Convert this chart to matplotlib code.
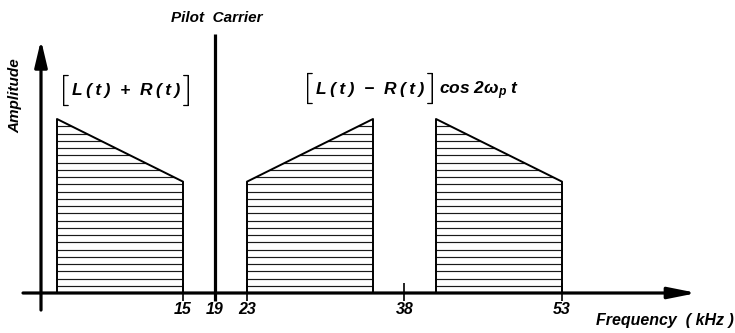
import numpy as np
import matplotlib
matplotlib.use("Agg")
import matplotlib.pyplot as plt
import matplotlib.patheffects as pe
from matplotlib.patches import Polygon

plt.rcParams['font.family'] = ['Liberation Sans', 'DejaVu Sans']
plt.rcParams['mathtext.fontset'] = 'custom'
plt.rcParams['mathtext.it'] = 'Liberation Sans:italic:bold'
plt.rcParams['mathtext.rm'] = 'Liberation Sans:italic:bold'

# spectrum bands (kHz) and their relative amplitudes at each edge
band_lo = [0, 23, 41]
band_hi = [15, 35, 53]
amp_lo = [1.0, 0.64, 1.0]
amp_hi = [0.64, 1.0, 0.64]

pilot_freq = 19
pilot_amp = 1.49

tick_freqs = [15, 19, 23, 38, 53]
tick_labels = ["15", "19", "23", "38", "53"]

# schematic (not to scale) frequency axis: kHz -> pixel position
scale_khz = [-10, 0, 15, 23, 53, 80]
scale_px = [-27, 57, 183, 247, 562, 845.5]


def fwd(x):
    return np.interp(x, scale_khz, scale_px)


def inv(p):
    return np.interp(p, scale_px, scale_khz)


W, H = 735, 333
fig = plt.figure(figsize=(W / 100, H / 100), dpi=100)
ax = fig.add_axes([0, 0, 1, 1])
ax.set_xscale('function', functions=(fwd, inv))
ax.set_xlim(inv(0), inv(W))
ax.set_ylim(-(H - 293) / 174, 293 / 174)
ax.axis('off')

bold = dict(fontweight='bold', fontstyle='italic', color='black')

# hatched bands
levels = np.arange(1, 24) / 24
for lo, hi, a0, a1 in zip(band_lo, band_hi, amp_lo, amp_hi):
    poly = Polygon([(lo, 0), (lo, a0), (hi, a1), (hi, 0)], closed=True,
                   facecolor='white', edgecolor='none', zorder=2)
    ax.add_patch(poly)
    hl = ax.hlines(levels, lo, hi, colors='#1a1a1a', lw=0.85, zorder=3)
    hl.set_clip_path(poly)
    ax.plot([lo, lo, hi, hi], [0, a0, a1, 0], color='black', lw=1.4, zorder=4)

# pilot carrier
ax.vlines(pilot_freq, -0.045, pilot_amp, colors='black', lw=2.3, zorder=5)

# axes with arrows
y_axis_x = inv(41)
ax.annotate('', xy=(y_axis_x, 1.454), xytext=(y_axis_x, -0.098),
            arrowprops=dict(arrowstyle='-|>,head_length=16,head_width=3.8',
                            mutation_scale=1, lw=2.3, color='black',
                            shrinkA=0, shrinkB=0), zorder=6)
ax.annotate('', xy=(inv(697), 0), xytext=(inv(23), 0),
            arrowprops=dict(arrowstyle='-|>,head_length=17,head_width=3.4',
                            mutation_scale=1, lw=2.3, color='black',
                            shrinkA=0, shrinkB=0), zorder=6)

# ticks and labels
ax.vlines(tick_freqs, -0.045, 0.058, colors='black', lw=1.2, zorder=6)
xt = ax.get_xaxis_transform()
for f, lab in zip(tick_freqs, tick_labels):
    ax.text(f, 1 - 309 / H, lab, transform=xt, ha='center', va='center',
            fontsize=11.5, **bold)


def px(x, y):
    return x / W, 1 - y / H


ax.text(*px(217, 18), "Pilot  Carrier", transform=ax.transAxes,
        ha='center', va='center', fontsize=11, **bold)
ax.text(*px(15, 96), "Amplitude", transform=ax.transAxes, rotation=90,
        ha='center', va='center', fontsize=11, **bold)
ax.text(*px(734, 321), "Frequency  ( kHz )", transform=ax.transAxes,
        ha='right', va='center', fontsize=11.5, **bold)


# bracketed expressions: thin brackets hugging the bold expression
def bracketed(x, y, s, size):
    t = ax.text(*px(x, y), s, transform=ax.transAxes, ha='center',
                va='center', fontsize=size, **bold)
    brk = dict(xycoords=t, textcoords='offset points', va='center',
               fontsize=25, fontweight='light', family=['Lato', 'DejaVu Sans'],
               color='black',
               path_effects=[pe.withStroke(linewidth=0.7, foreground='black')])
    ax.annotate("[", xy=(0, 0.47), xytext=(-1.5, 0), ha='right', **brk)
    right = ax.annotate("]", xy=(1, 0.47), xytext=(1.5, 0), ha='left', **brk)
    return right


ts = "\u2009"
lt = "L" + ts + "(" + ts + "t" + ts + ")"
rt = "R" + ts + "(" + ts + "t" + ts + ")"
bracketed(126, 91, lt + "  +  " + rt, 12.5)
rb = bracketed(370, 89, lt + "  \u2212  " + rt, 12.5)
ax.annotate("cos 2\u03c9$_p$ t", xy=(1, 0.5), xycoords=rb,
            xytext=(2, -1), textcoords='offset points', ha='left',
            va='center', fontsize=12.5, **bold)

fig.savefig("out.png", dpi=100)
